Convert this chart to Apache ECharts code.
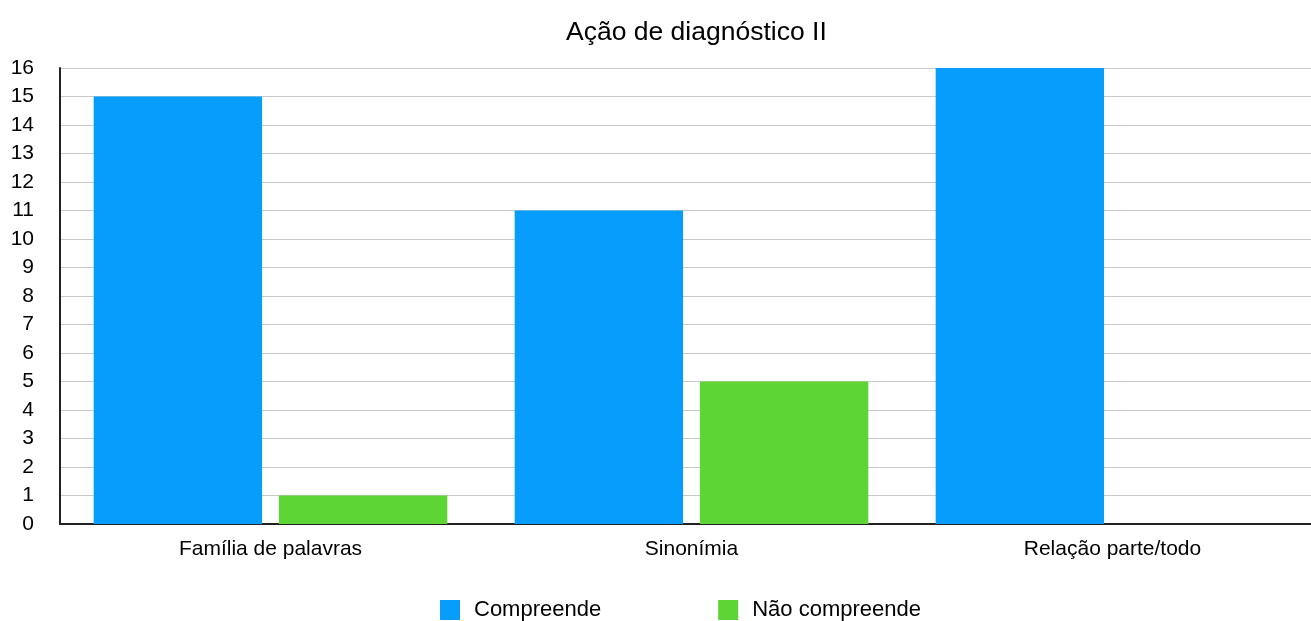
<!DOCTYPE html>
<html><head><meta charset="utf-8">
<script src="https://cdn.jsdelivr.net/npm/echarts@6/dist/echarts.min.js"></script>
<style>html,body{margin:0;padding:0;background:#fff}#c{width:1311px;height:621px}</style>
</head><body><div id="c"></div>
<script>
const categories = ['Família de palavras', 'Sinonímia', 'Relação parte/todo'];
const compreende = [15, 11, 16];
const naoCompreende = [1, 5, 0];
const seriesNames = ['Compreende', 'Não compreende'];
const chart = echarts.init(document.getElementById('c'));
const font = 'Helvetica, "Liberation Sans", Arial, sans-serif';
chart.setOption({
  animation: false,
  textStyle: { fontFamily: font },
  title: { text: 'Ação de diagnóstico II', left: 561, top: 14,
    textStyle: { fontSize: 26.5, fontWeight: 'normal', color: '#000', fontFamily: font } },
  legend: { bottom: -5, left: 435, itemWidth: 20, itemHeight: 20, itemGap: 117,
    icon: 'rect', textStyle: { fontSize: 22, color: '#000', fontFamily: font, padding: [0,0,0,9] },
    data: seriesNames },
  grid: { left: 60, width: 1263, top: 68, bottom: 97, containLabel: false, outerBoundsMode: 'none' },
  xAxis: { type: 'category', data: categories,
    axisLine: { lineStyle: { color: '#222', width: 2 } },
    axisTick: { show: false },
    axisLabel: { fontSize: 21, color: '#000', margin: 15, fontFamily: font } },
  yAxis: { type: 'value', min: 0, max: 16, interval: 1,
    axisLine: { show: true, lineStyle: { color: '#222', width: 2 } },
    axisTick: { show: false },
    splitLine: { lineStyle: { color: '#c8c8c8', width: 1 } },
    axisLabel: { fontSize: 21, color: '#000', margin: 26, fontFamily: font } },
  series: [
    { name: seriesNames[0], type: 'bar', data: compreende, barWidth: '40%', barGap: '10%',
      itemStyle: { color: '#069dfd' } },
    { name: seriesNames[1], type: 'bar', data: naoCompreende, barWidth: '40%',
      itemStyle: { color: '#5dd535' } }
  ]
});
</script></body></html>
